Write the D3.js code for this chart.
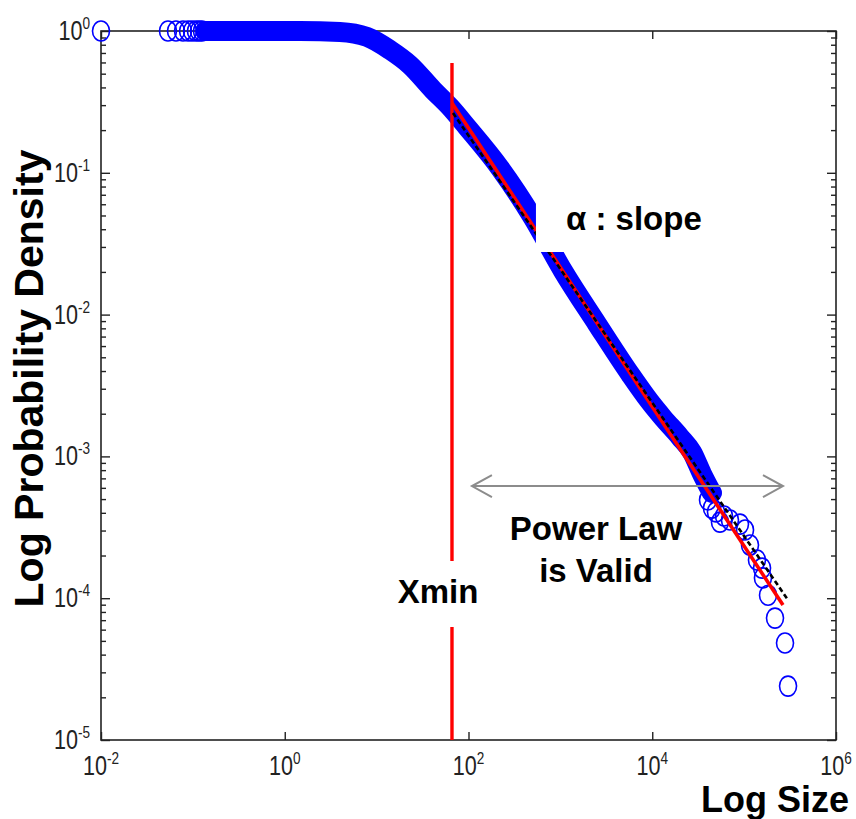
<!DOCTYPE html>
<html>
<head>
<meta charset="utf-8">
<script src="https://cdn.jsdelivr.net/npm/d3@7"></script>
<style>
body { margin: 0; background: #fff; }
svg { display: block; }
.tick-lbl { font-family: "Liberation Sans", Arial, sans-serif; fill: #222; }
.ann { font-family: "Liberation Sans", Arial, sans-serif; font-weight: bold; fill: #000; }
.ttl { font-family: "Liberation Sans", Arial, sans-serif; font-weight: bold; fill: #000; }
</style>
</head>
<body>
<svg id="chart" width="856" height="819"></svg>
<script>
// tick labels
var xTicks = [1e-2, 1e0, 1e2, 1e4, 1e6],
    xTickExp = ['-2', '0', '2', '4', '6'],
    yTicks = [1e-5, 1e-4, 1e-3, 1e-2, 1e-1, 1e0],
    yTickExp = ['-5', '-4', '-3', '-2', '-1', '0'];

// isolated markers at the small-size end
var headSize = [0.01, 0.0536, 0.0655, 0.0781, 0.0886, 0.0978, 0.108, 0.1166, 0.1257],
    headProb = [1, 1, 1, 1, 1, 1, 1, 1, 1];

// dense run of markers (read along the middle of the band)
var bandSize = [0.1355, 0.419, 1.47, 3.99, 7.85, 14.0, 23.1, 41.1, 63.0, 96.4, 220, 504,
                1069, 2506, 5728, 9462, 13090, 20040, 27100, 34850, 44670],
    bandProb = [1, 1, 1, 0.984, 0.908, 0.734, 0.575, 0.384, 0.291, 0.210, 0.108, 0.048,
                0.0203, 0.00859, 0.00381, 0.00242, 0.00187, 0.00137, 0.00107, 0.000751, 0.000552];

// sparse markers in the tail
var tailSize = [40450, 44670, 49400, 54580, 60400, 70150, 90160, 102300, 115900, 138000,
                156700, 160300, 182000, 216800, 278600, 300600],
    tailProb = [4.93e-4, 4.32e-4, 4.06e-4, 3.44e-4, 3.80e-4, 3.56e-4, 3.33e-4, 3.03e-4, 2.37e-4, 1.86e-4,
                1.63e-4, 1.39e-4, 1.05e-4, 7.24e-5, 4.83e-5, 2.40e-5];

// fitted lines and Xmin
var fitSize = [66.1, 264800],
    fitProb = [0.311, 8.95e-5],
    mleSize = [67.8, 300600],
    mleProb = [0.264, 9.71e-5],
    xmin = 66.1,
    xminTop = 0.594,
    rangeSize = [109, 264800],
    rangeProb = 6.18e-4;

var svg = d3.select('#chart'),
    x = d3.scaleLog().domain([1e-2, 1e6]).range([101, 836]),
    y = d3.scaleLog().domain([1e-5, 1]).range([740, 31]),
    blue = '#0000ff',
    axisCol = '#222';

var yMinor = y.ticks().filter(function(v) {
  return Math.abs(Math.log10(v) - Math.round(Math.log10(v))) > 1e-6;
});

// frame + ticks
svg.append('rect')
  .attr('x', x(1e-2)).attr('y', y(1))
  .attr('width', x(1e6) - x(1e-2)).attr('height', y(1e-5) - y(1))
  .attr('fill', 'none').attr('stroke', axisCol).attr('stroke-width', 1.6);

function ticks(g, axis) {
  g.call(axis);
  g.select('.domain').remove();
  g.selectAll('.tick line').attr('stroke', axisCol).attr('stroke-width', 1.4);
}
svg.append('g').attr('transform', 'translate(0,' + y(1e-5) + ')')
  .call(ticks, d3.axisBottom(x).tickValues(xTicks).tickSize(-8).tickFormat(''));
svg.append('g').attr('transform', 'translate(0,' + y(1) + ')')
  .call(ticks, d3.axisTop(x).tickValues(xTicks).tickSize(-8).tickFormat(''));
svg.append('g').attr('transform', 'translate(' + x(1e-2) + ',0)')
  .call(ticks, d3.axisLeft(y).tickValues(yTicks).tickSize(-9).tickFormat(''));
svg.append('g').attr('transform', 'translate(' + x(1e-2) + ',0)')
  .call(ticks, d3.axisLeft(y).tickValues(yMinor).tickSize(-5).tickFormat(''));
svg.append('g').attr('transform', 'translate(' + x(1e6) + ',0)')
  .call(ticks, d3.axisRight(y).tickValues(yTicks).tickSize(-9).tickFormat(''));
svg.append('g').attr('transform', 'translate(' + x(1e6) + ',0)')
  .call(ticks, d3.axisRight(y).tickValues(yMinor).tickSize(-5).tickFormat(''));

// tick labels, 10 with superscript, squeezed like the narrow original font
function tickLabel(g, exp, anchor) {
  var t = g.append('text').attr('class', 'tick-lbl').attr('text-anchor', anchor);
  t.append('tspan').attr('font-size', 27).text('10');
  t.append('tspan').attr('font-size', 17).attr('dy', -11).text(exp);
}
svg.selectAll('g.xl').data(xTicks).enter().append('g')
  .attr('class', 'xl')
  .attr('transform', function(d) { return 'translate(' + x(d) + ',' + (y(1e-5) + 35) + ') scale(0.8,1)'; })
  .each(function(d, i) { tickLabel(d3.select(this), xTickExp[i], 'middle'); });

svg.selectAll('g.yl').data(yTicks).enter().append('g')
  .attr('class', 'yl')
  .attr('transform', function(d) { return 'translate(' + (x(1e-2) - 11) + ',' + (y(d) + 9) + ') scale(0.8,1)'; })
  .each(function(d, i) { tickLabel(d3.select(this), yTickExp[i], 'end'); });

// axis titles
svg.append('text').attr('class', 'ttl')
  .attr('transform', 'translate(43,' + ((y(1) + y(1e-5)) / 2 - 7) + ') rotate(-90)')
  .attr('text-anchor', 'middle').attr('font-size', 41)
  .text('Log Probability Density');
svg.append('text').attr('class', 'ttl')
  .attr('x', 849).attr('y', 812)
  .attr('text-anchor', 'end').attr('font-size', 36)
  .text('Log Size');

// data: dense band, then single markers
var bandLine = d3.line()
  .x(function(d, i) { return x(bandSize[i]); })
  .y(function(d, i) { return y(bandProb[i]); })
  .curve(d3.curveMonotoneX);

svg.append('path')
  .attr('d', bandLine(bandSize))
  .attr('fill', 'none').attr('stroke', blue)
  .attr('stroke-width', 20).attr('stroke-linecap', 'round').attr('stroke-linejoin', 'round');

function markers(sizes, probs) {
  svg.append('g').selectAll('ellipse').data(sizes).enter().append('ellipse')
    .attr('cx', function(d) { return x(d); })
    .attr('cy', function(d, i) { return y(probs[i]); })
    .attr('rx', 8.5).attr('ry', 10)
    .attr('fill', 'none').attr('stroke', blue).attr('stroke-width', 1.6);
}
markers(headSize, headProb);
markers(tailSize, tailProb);

// Xmin line and fits
svg.append('line')
  .attr('x1', x(xmin)).attr('x2', x(xmin))
  .attr('y1', y(xminTop)).attr('y2', y(1e-5))
  .attr('stroke', '#ff0000').attr('stroke-width', 3.4);

svg.append('line')
  .attr('x1', x(fitSize[0])).attr('y1', y(fitProb[0]))
  .attr('x2', x(fitSize[1])).attr('y2', y(fitProb[1]))
  .attr('stroke', '#ff0000').attr('stroke-width', 3.6);

svg.append('line')
  .attr('x1', x(mleSize[0])).attr('y1', y(mleProb[0]))
  .attr('x2', x(mleSize[1])).attr('y2', y(mleProb[1]))
  .attr('stroke', '#000').attr('stroke-width', 2.6).attr('stroke-dasharray', '5,3');

// valid range arrow
var ax0 = x(rangeSize[0]), ax1 = x(rangeSize[1]), ay = y(rangeProb);
svg.append('path')
  .attr('d', 'M' + ax0 + ',' + ay + 'H' + ax1
    + 'M' + (ax0 + 20) + ',' + (ay - 11) + 'L' + ax0 + ',' + ay + 'L' + (ax0 + 20) + ',' + (ay + 11)
    + 'M' + (ax1 - 20) + ',' + (ay - 11) + 'L' + ax1 + ',' + ay + 'L' + (ax1 - 20) + ',' + (ay + 11))
  .attr('fill', 'none').attr('stroke', '#8c8c8c').attr('stroke-width', 2);

// annotations (white boxes cut through the data like the original)
var annX = [1150, 46.6, 2443, 2443],
    annY = [0.0395, 9.25e-5, 2.57e-4, 1.30e-4],
    annText = ['α : slope', 'Xmin', 'Power Law', 'is Valid'],
    annAnchor = ['start', 'middle', 'middle', 'middle'];

svg.append('rect')
  .attr('x', x(annX[0]) - 30).attr('y', y(annY[0]) - 42)
  .attr('width', 190).attr('height', 64).attr('fill', '#fff');
svg.append('rect')
  .attr('x', x(annX[1]) - 48).attr('y', y(annY[1]) - 42)
  .attr('width', 100).attr('height', 66).attr('fill', '#fff');

svg.selectAll('text.ann').data(annText).enter().append('text')
  .attr('class', 'ann')
  .attr('x', function(d, i) { return x(annX[i]); })
  .attr('y', function(d, i) { return y(annY[i]); })
  .attr('text-anchor', function(d, i) { return annAnchor[i]; })
  .attr('font-size', 33)
  .text(function(d) { return d; });
// end of chart
</script>
</body>
</html>
